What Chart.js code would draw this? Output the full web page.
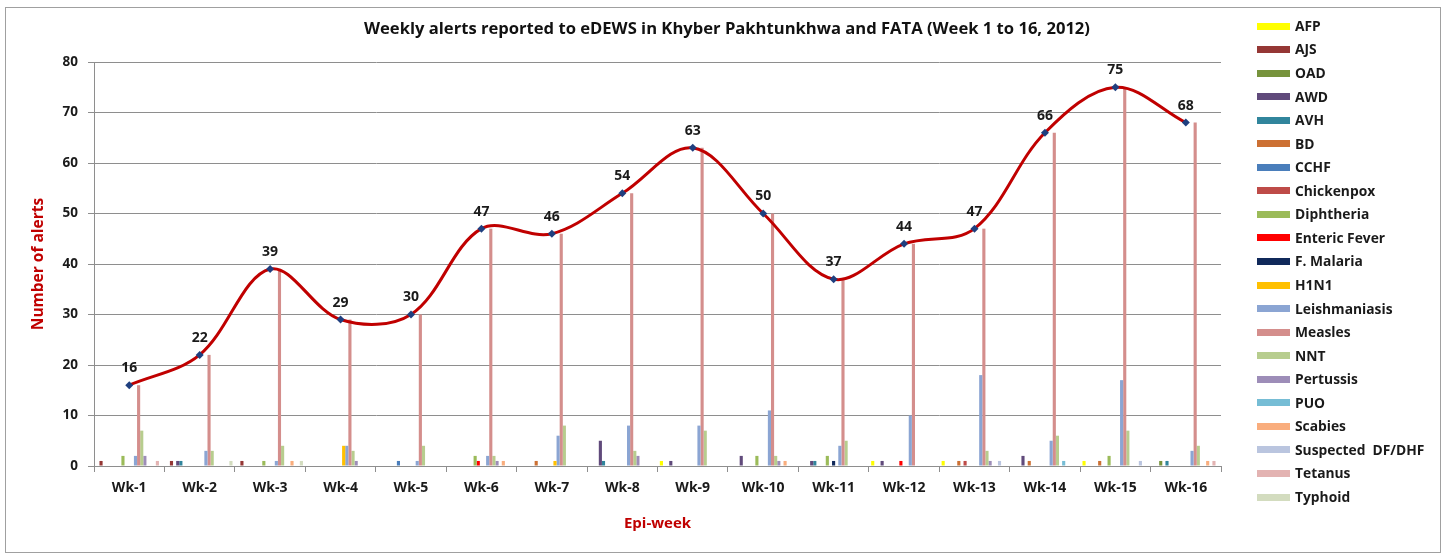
<!DOCTYPE html>
<html>
<head>
<meta charset="utf-8">
<script src="https://cdn.jsdelivr.net/npm/chart.js@4"></script>
<style>
  html, body { margin: 0; padding: 0; background: #fff; }
  #chartBox { width: 1444px; height: 555px; }
</style>
</head>
<body>
<div id="chartBox"><canvas id="alertsChart" width="1444" height="555"></canvas></div>
<script>
const chartTitle = 'Weekly alerts reported to eDEWS in Khyber Pakhtunkhwa and FATA (Week 1 to 16, 2012)';
const weeks = ['Wk-1', 'Wk-2', 'Wk-3', 'Wk-4', 'Wk-5', 'Wk-6', 'Wk-7', 'Wk-8',
               'Wk-9', 'Wk-10', 'Wk-11', 'Wk-12', 'Wk-13', 'Wk-14', 'Wk-15', 'Wk-16'];
const yTicks = [0, 10, 20, 30, 40, 50, 60, 70, 80];

const diseases = ['AFP', 'AJS', 'OAD', 'AWD', 'AVH', 'BD', 'CCHF', 'Chickenpox', 'Diphtheria',
                  'Enteric Fever', 'F. Malaria', 'H1N1', 'Leishmaniasis', 'Measles', 'NNT',
                  'Pertussis', 'PUO', 'Scabies', 'Suspected  DF/DHF', 'Tetanus', 'Typhoid'];
const colors = ['#FFFF00', '#953735', '#77933C', '#604A7B', '#31859C', '#CC7033', '#4A7EBB',
                '#BE4B48', '#9BBB59', '#FF0000', '#10295A', '#FFC000', '#8BA5D3', '#D48E8C',
                '#B7CD8E', '#9D8DB8', '#76BDD5', '#F9AD7D', '#BAC5DF', '#E3B3B2', '#D3DCBF'];

// weekly counts per disease, Wk-1 .. Wk-16
const afp          = [0, 0, 0, 0, 0, 0, 0, 0, 1, 0, 0, 1, 1, 0, 1, 0];
const ajs          = [1, 1, 1, 0, 0, 0, 0, 0, 0, 0, 0, 0, 0, 0, 0, 0];
const oad          = [0, 0, 0, 0, 0, 0, 0, 0, 0, 0, 0, 0, 0, 0, 0, 1];
const awd          = [0, 1, 0, 0, 0, 0, 0, 5, 1, 2, 1, 1, 0, 2, 0, 0];
const avh          = [0, 1, 0, 0, 0, 0, 0, 1, 0, 0, 1, 0, 0, 0, 0, 1];
const bd           = [0, 0, 0, 0, 0, 0, 1, 0, 0, 0, 0, 0, 1, 1, 1, 0];
const cchf         = [0, 0, 0, 0, 1, 0, 0, 0, 0, 0, 0, 0, 0, 0, 0, 0];
const chickenpox   = [0, 0, 0, 0, 0, 0, 0, 0, 0, 0, 0, 0, 1, 0, 0, 0];
const diphtheria   = [2, 0, 1, 0, 0, 2, 0, 0, 0, 2, 2, 0, 0, 0, 2, 0];
const entericFever = [0, 0, 0, 0, 0, 1, 0, 0, 0, 0, 0, 1, 0, 0, 0, 0];
const fMalaria     = [0, 0, 0, 0, 0, 0, 0, 0, 0, 0, 1, 0, 0, 0, 0, 0];
const h1n1         = [0, 0, 0, 4, 0, 0, 1, 0, 0, 0, 0, 0, 0, 0, 0, 0];
const leish        = [2, 3, 1, 4, 1, 2, 6, 8, 8, 11, 4, 10, 18, 5, 17, 3];
const measles      = [16, 22, 39, 29, 30, 47, 46, 54, 63, 50, 37, 44, 47, 66, 75, 68];
const nnt          = [7, 3, 4, 3, 4, 2, 8, 3, 7, 2, 5, 0, 3, 6, 7, 4];
const pertussis    = [2, 0, 0, 1, 0, 1, 0, 2, 0, 1, 0, 0, 1, 0, 0, 0];
const puo          = [0, 0, 0, 0, 0, 0, 0, 0, 0, 0, 0, 0, 0, 1, 0, 0];
const scabies      = [0, 0, 1, 0, 0, 1, 0, 0, 0, 1, 0, 0, 0, 0, 0, 1];
const suspectedDF  = [0, 0, 0, 0, 0, 0, 0, 0, 0, 0, 0, 0, 1, 0, 1, 0];
const tetanus      = [1, 0, 0, 0, 0, 0, 0, 0, 0, 0, 0, 0, 0, 0, 0, 1];
const typhoid      = [0, 1, 1, 0, 0, 0, 0, 0, 0, 0, 0, 0, 0, 0, 0, 0];

const totals = [16, 22, 39, 29, 30, 47, 46, 54, 63, 50, 37, 44, 47, 66, 75, 68];

const seriesValues = [afp, ajs, oad, awd, avh, bd, cchf, chickenpox, diphtheria, entericFever,
                      fMalaria, h1n1, leish, measles, nnt, pertussis, puo, scabies, suspectedDF,
                      tetanus, typhoid];

const FONT = '"Open Sans", "DejaVu Sans", sans-serif';
const AXIS_RED = '#C00000';
const GRID = '#8E8E8E';

const barSets = diseases.map((name, i) => ({
    type: 'bar',
    label: name,
    data: seriesValues[i],
    backgroundColor: colors[i],
    borderWidth: 0,
    categoryPercentage: 21 / 22.5,
    barPercentage: 1,
    order: 2
}));

const totalLine = {
    type: 'line',
    label: 'Total',
    data: totals,
    borderColor: '#C00000',
    borderWidth: 3,
    tension: 0.35,
    pointStyle: 'rectRot',
    pointRadius: 4,
    pointBackgroundColor: '#1F3F7F',
    pointBorderColor: '#1F3F7F',
    pointBorderWidth: 0,
    fill: false,
    order: 0
};

// title, data labels, legend and outer frame
const extras = {
    id: 'extras',
    afterDatasetsDraw(chart) {
        const ctx = chart.ctx;
        const idx = chart.data.datasets.indexOf(totalLine);
        const meta = chart.getDatasetMeta(idx);
        ctx.save();
        ctx.font = 'bold 14px ' + FONT;
        ctx.fillStyle = '#1A1A1A';
        ctx.textAlign = 'center';
        ctx.textBaseline = 'middle';
        meta.data.forEach((pt, i) => {
            ctx.fillText(String(totals[i]), pt.x, pt.y - 17);
        });
        ctx.restore();
    },
    afterDraw(chart) {
        const ctx = chart.ctx;
        ctx.save();
        ctx.strokeStyle = '#A0A0A0';
        ctx.lineWidth = 1;
        ctx.strokeRect(5.5, 7.5, 1435, 545);

        ctx.fillStyle = '#111111';
        ctx.font = 'bold 16.6px ' + FONT;
        ctx.textAlign = 'center';
        ctx.textBaseline = 'middle';
        ctx.fillText(chartTitle, 727, 29);

        ctx.font = 'bold 13.8px ' + FONT;
        ctx.textAlign = 'left';
        diseases.forEach((name, i) => {
            const y = 26 + i * 23.55;
            ctx.fillStyle = colors[i];
            ctx.fillRect(1257, Math.round(y - 3.5), 33, 7);
            ctx.fillStyle = '#1A1A1A';
            ctx.fillText(name, 1295, y + 1);
        });
        ctx.restore();
    }
};

new Chart(document.getElementById('alertsChart'), {
    data: {
        labels: weeks,
        datasets: [...barSets, totalLine]
    },
    options: {
        responsive: false,
        animation: false,
        layout: { padding: { top: 62, right: 223, bottom: 0, left: 0 } },
        plugins: {
            legend: { display: false },
            tooltip: { enabled: false },
            title: { display: false }
        },
        scales: {
            x: {
                offset: true,
                afterFit: (scale) => { scale.height = 89; },
                grid: {
                    offset: true,
                    drawOnChartArea: false,
                    drawTicks: true,
                    tickLength: 6,
                    color: GRID
                },
                border: { color: GRID, width: 1 },
                ticks: {
                    color: '#1A1A1A',
                    font: { family: FONT, size: 14, weight: 'bold' },
                    padding: 8
                },
                title: {
                    display: true,
                    text: 'Epi-week',
                    color: AXIS_RED,
                    font: { family: FONT, size: 15, weight: 'bold' },
                    padding: { top: 0, bottom: 22 }
                }
            },
            y: {
                min: 0,
                max: 80,
                afterFit: (scale) => { scale.width = 94; },
                afterBuildTicks: (scale) => { scale.ticks = yTicks.map(v => ({ value: v })); },
                grid: {
                    color: GRID,
                    tickLength: 6,
                    drawTicks: true
                },
                border: { color: GRID, width: 1 },
                ticks: {
                    color: '#1A1A1A',
                    font: { family: FONT, size: 13.5, weight: 'bold' },
                    padding: 10
                },
                title: {
                    display: true,
                    text: 'Number of alerts',
                    color: AXIS_RED,
                    font: { family: FONT, size: 15.5, weight: 'bold' },
                    padding: { top: 29, bottom: 0 }
                }
            }
        }
    },
    plugins: [extras]
});
</script>
</body>
</html>
